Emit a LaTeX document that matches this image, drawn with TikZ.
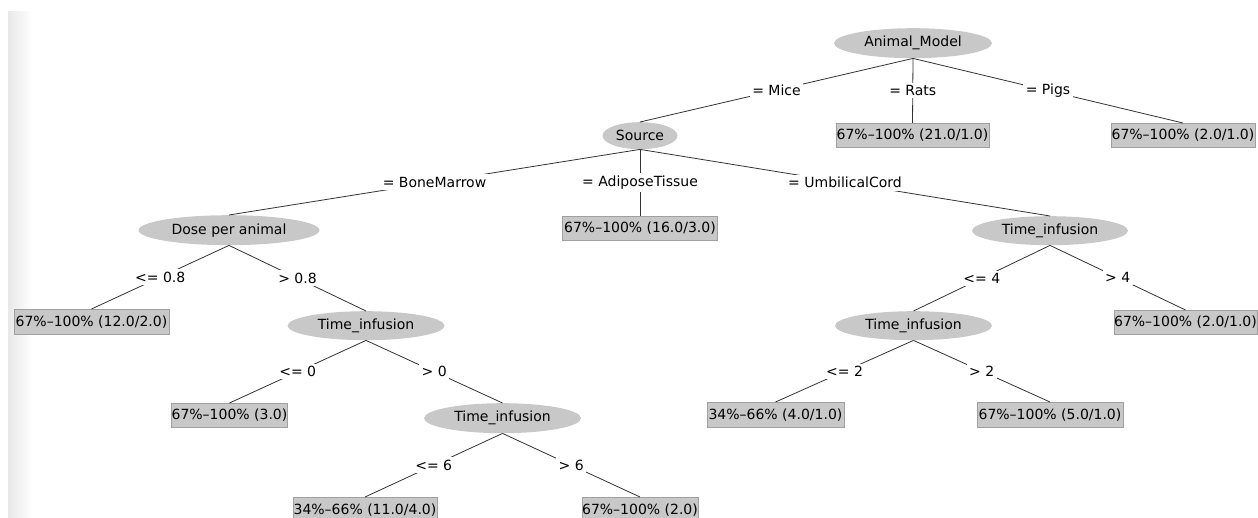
\documentclass[tikz,border=0pt]{standalone}
\usepackage{fontspec}
\setmainfont{DejaVu Sans}
\usetikzlibrary{shapes.geometric}
\definecolor{nodegray}{RGB}{200,200,200}
\definecolor{boxedge}{RGB}{160,160,160}
\definecolor{edgecol}{RGB}{50,50,50}
\begin{document}
\begin{tikzpicture}[x=1pt,y=-1pt,
  every node/.style={font=\fontsize{14}{16}\selectfont, text=black},
  ell/.style={ellipse, fill=nodegray, inner sep=0pt, minimum height=29pt, anchor=north},
  leaf/.style={rectangle, fill=nodegray, draw=boxedge, line width=0.6pt, inner sep=0pt, minimum height=24pt, anchor=north},
  lbl/.style={fill=white, inner sep=2.5pt},
  br/.style={draw=edgecol, line width=0.8pt}]
\useasboundingbox (0,0) rectangle (1258,518);
\clip (0,0) rectangle (1258,518);
\shade[left color=black!9, right color=white] (8,12) rectangle (32,518);
% nodes
\node[ell, minimum width=158pt, minimum height=30pt] (am) at (913,28) {Animal\_Model};
\node[ell, minimum width=75pt, minimum height=27pt] (src) at (640,122) {Source};
\node[leaf, minimum width=153pt] (rats) at (912.5,123) {67\%\textendash100\% (21.0/1.0)};
\node[leaf, minimum width=144pt] (pigs) at (1183,123) {67\%\textendash100\% (2.0/1.0)};
\node[ell, minimum width=181pt, minimum height=30pt] (dose) at (229,215) {Dose per animal};
\node[leaf, minimum width=155pt] (adi) at (640,216) {67\%\textendash100\% (16.0/3.0)};
\node[ell, minimum width=156pt] (tir) at (1050,216) {Time\_infusion};
\node[leaf, minimum width=155pt, minimum height=25pt] (l12) at (91.5,309) {67\%\textendash100\% (12.0/2.0)};
\node[ell, minimum width=157pt] (til) at (366,311) {Time\_infusion};
\node[ell, minimum width=157pt] (tim) at (913.5,311) {Time\_infusion};
\node[leaf, minimum width=143pt] (l21) at (1185.5,310) {67\%\textendash100\% (2.0/1.0)};
\node[leaf, minimum width=115pt] (l3) at (229.5,403) {67\%\textendash100\% (3.0)};
\node[ell, minimum width=157pt, minimum height=30pt] (tib) at (502.5,403) {Time\_infusion};
\node[leaf, minimum width=137pt, minimum height=25pt] (l41) at (775.5,402) {34\%\textendash66\% (4.0/1.0)};
\node[leaf, minimum width=146pt, minimum height=25pt] (l51) at (1050,402) {67\%\textendash100\% (5.0/1.0)};
\node[leaf, minimum width=144pt, minimum height=25pt] (l114) at (365,497) {34\%\textendash66\% (11.0/4.0)};
\node[leaf, minimum width=115pt, minimum height=25pt] (l20) at (640,497) {67\%\textendash100\% (2.0)};
% edges
\draw[br] (am.south) -- node[lbl] {= Mice} (src.north);
\draw[br] (am.south) -- node[lbl] {= Rats} (rats.north);
\draw[br] (am.south) -- node[lbl] {= Pigs} (pigs.north);
\draw[br] (src.south) -- node[lbl] {= BoneMarrow} (dose.north);
\draw[br] (src.south) -- node[lbl] {= AdiposeTissue} (adi.north);
\draw[br] (src.south) -- node[lbl] {= UmbilicalCord} (tir.north);
\draw[br] (dose.south) -- node[lbl] {<= 0.8} (l12.north);
\draw[br] (dose.south) -- node[lbl] {> 0.8} (til.north);
\draw[br] (tir.south) -- node[lbl] {<= 4} (tim.north);
\draw[br] (tir.south) -- node[lbl] {> 4} (l21.north);
\draw[br] (til.south) -- node[lbl] {<= 0} (l3.north);
\draw[br] (til.south) -- node[lbl] {> 0} (tib.north);
\draw[br] (tim.south) -- node[lbl] {<= 2} (l41.north);
\draw[br] (tim.south) -- node[lbl] {> 2} (l51.north);
\draw[br] (tib.south) -- node[lbl] {<= 6} (l114.north);
\draw[br] (tib.south) -- node[lbl] {> 6} (l20.north);
\end{tikzpicture}
\end{document}
